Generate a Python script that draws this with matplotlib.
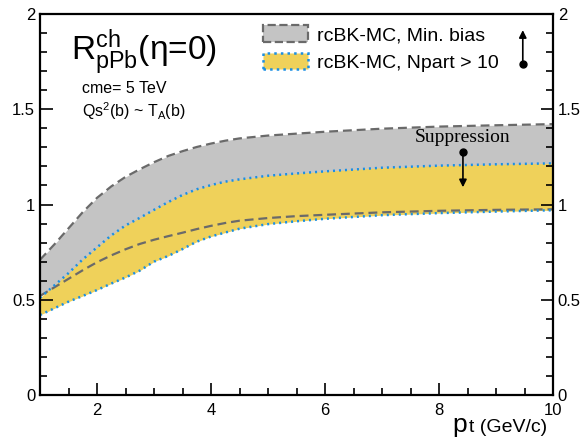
import numpy as np
import matplotlib
matplotlib.use('agg')
import matplotlib.pyplot as plt
from matplotlib.patches import Patch
from matplotlib.ticker import MultipleLocator

plt.rcParams['font.family'] = ['Liberation Sans', 'DejaVu Sans']
plt.rcParams['mathtext.fontset'] = 'custom'
plt.rcParams['mathtext.rm'] = 'Liberation Sans'
plt.rcParams['mathtext.it'] = 'Liberation Sans:italic'

# pt grid and band edges
pt = [1, 1.25, 1.5, 1.75, 2, 2.25, 2.5, 2.75, 3, 3.25, 3.5, 3.75, 4, 4.25, 4.5,
      5, 5.5, 6, 7, 8, 9, 10]
mb_upper = [0.71, 0.79, 0.875, 0.96, 1.035, 1.095, 1.145, 1.185, 1.222, 1.255, 1.28,
            1.302, 1.32, 1.335, 1.347, 1.362, 1.372, 1.382, 1.398, 1.409, 1.416, 1.422]
mb_lower = [0.52, 0.565, 0.61, 0.655, 0.697, 0.733, 0.765, 0.793, 0.815, 0.834, 0.852,
            0.871, 0.888, 0.903, 0.915, 0.929, 0.939, 0.946, 0.959, 0.967, 0.972, 0.975]
np_upper = [0.51, 0.575, 0.64, 0.712, 0.775, 0.838, 0.89, 0.93, 0.972, 1.013, 1.05,
            1.08, 1.102, 1.12, 1.132, 1.151, 1.163, 1.174, 1.193, 1.204, 1.211, 1.216]
np_lower = [0.42, 0.455, 0.49, 0.52, 0.551, 0.585, 0.617, 0.653, 0.70, 0.73, 0.766,
            0.805, 0.832, 0.853, 0.873, 0.897, 0.912, 0.925, 0.944, 0.955, 0.963, 0.97]

labels = ['rcBK-MC, Min. bias', 'rcBK-MC, Npart > 10']

# arrow annotations (data coords): (x, y_dot, y_head)
arrow_up = (9.47, 1.74, 1.93)
arrow_down = (8.42, 1.276, 1.076)

gray_fill = '#c4c4c4'
gray_line = '#6a6a6a'
yellow_fill = '#efd15a'
blue_line = '#1b8fe3'

fig = plt.figure(figsize=(5.85, 4.42), dpi=100)
ax = fig.add_axes([0.0684, 0.1063, 0.8769, 0.862])

ax.fill_between(pt, mb_lower, mb_upper, color=gray_fill, lw=0)
ax.fill_between(pt, np_lower, np_upper, color=yellow_fill, lw=0)
ax.plot(pt, mb_upper, color=gray_line, lw=1.6, ls=(0, (4, 2.2)))
ax.plot(pt, mb_lower, color=gray_line, lw=1.6, ls=(0, (4, 2.2)))
ax.plot(pt, np_upper, color=blue_line, lw=1.8, ls=(0, (0.8, 1.6)))
ax.plot(pt, np_lower, color=blue_line, lw=1.8, ls=(0, (0.8, 1.6)))

ax.set_xlim(1, 10)
ax.set_ylim(0, 2)
ax.set_xticks([2, 4, 6, 8, 10])
ax.set_yticks([0, 0.5, 1, 1.5, 2])
ax.set_yticklabels(['0', '0.5', '1', '1.5', '2'])
ax.xaxis.set_minor_locator(MultipleLocator(0.5))
ax.yaxis.set_minor_locator(MultipleLocator(0.1))
ax.tick_params(which='both', direction='in', top=False, right=True,
               labelright=True, width=1.2, labelsize=12)
ax.tick_params(which='major', length=9)
ax.tick_params(which='minor', length=5)
ax.tick_params(axis='x', pad=6)
for s in ax.spines.values():
    s.set_linewidth(1.6)

handles = [Patch(facecolor=gray_fill, edgecolor=gray_line, linestyle='--', linewidth=1.6),
           Patch(facecolor=yellow_fill, edgecolor=blue_line, linestyle=':', linewidth=1.8)]
ax.legend(handles, labels, loc='upper left', bbox_to_anchor=(0.435, 0.97),
          frameon=False, fontsize=14, borderpad=0, borderaxespad=0,
          handlelength=2.3, handleheight=0.95, handletextpad=0.45, labelspacing=0.42)

ax.text(0.06, 0.90, r'R$^{\rm ch}_{\rm pPb}$(η=0)', transform=ax.transAxes,
        fontsize=24, va='center', ha='left')
ax.text(0.082, 0.804, 'cme= 5 TeV', transform=ax.transAxes, fontsize=11.5, va='center')
ax.text(0.082, 0.745, r'Qs$^{\rm 2}$(b) ~ T$_{\rm A}$(b)', transform=ax.transAxes,
        fontsize=11.5, va='center')

ax.text(arrow_down[0], 1.35, 'Suppression', family='Liberation Serif', fontsize=14,
        ha='center', va='center')
for x, y0, y1 in (arrow_up, arrow_down):
    ax.annotate('', xy=(x, y1), xytext=(x, y0),
                arrowprops=dict(arrowstyle='-|>', color='k', lw=1.2, mutation_scale=11))
    ax.plot(x, y0, 'o', color='k', ms=5)

# x label: large p, smaller t
ax.text(0.803, -0.097, 'p', transform=ax.transAxes, fontsize=19, ha='left', va='baseline')
ax.text(0.836, -0.097, 't (GeV/c)', transform=ax.transAxes, fontsize=14, ha='left', va='baseline')

fig.savefig('out.png', dpi=100)
